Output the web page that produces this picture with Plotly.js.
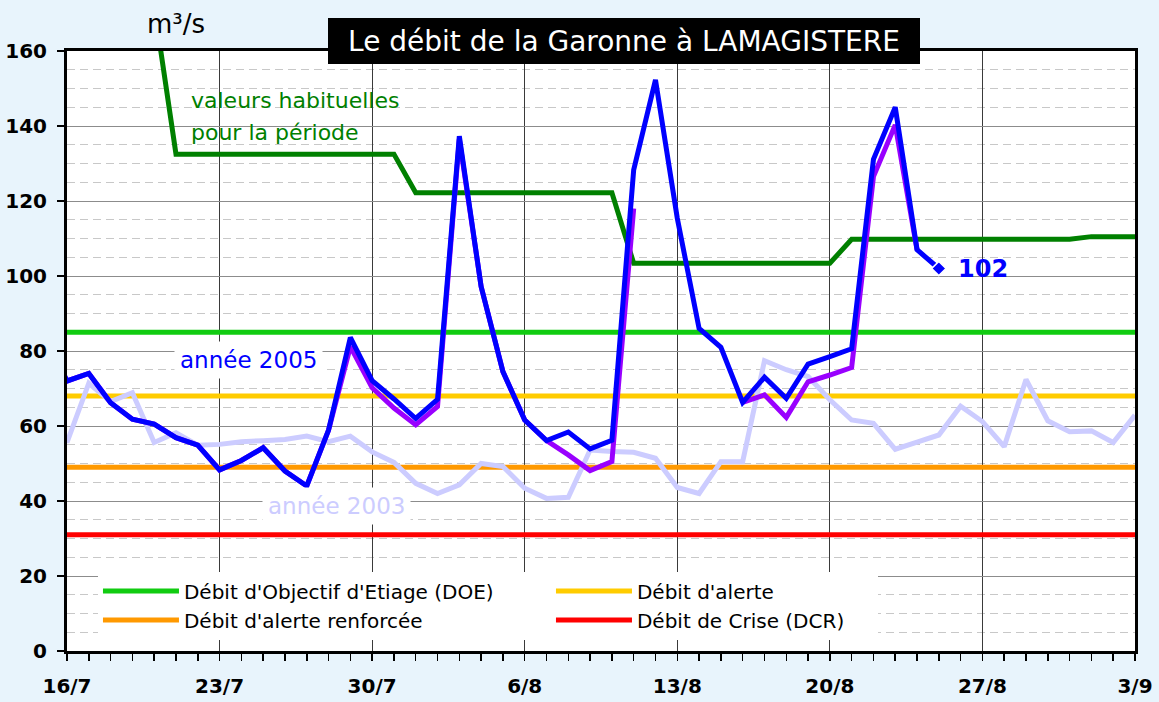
<!DOCTYPE html>
<html>
<head>
<meta charset="utf-8">
<script src="https://cdn.plot.ly/plotly-3.0.1.min.js"></script>
<style>
  html, body { margin: 0; padding: 0; background: #e8f4fc; }
  #chart { width: 1159px; height: 702px; }
</style>
</head>
<body>
<div id="chart"></div>
<script>
// ---- Data ----
const dates = [
  '2005-07-15','2005-07-16','2005-07-17','2005-07-18','2005-07-19','2005-07-20','2005-07-21',
  '2005-07-22','2005-07-23','2005-07-24','2005-07-25','2005-07-26','2005-07-27','2005-07-28',
  '2005-07-29','2005-07-30','2005-07-31','2005-08-01','2005-08-02','2005-08-03','2005-08-04',
  '2005-08-05','2005-08-06','2005-08-07','2005-08-08','2005-08-09','2005-08-10','2005-08-11',
  '2005-08-12','2005-08-13','2005-08-14','2005-08-15','2005-08-16','2005-08-17','2005-08-18',
  '2005-08-19','2005-08-20','2005-08-21','2005-08-22','2005-08-23','2005-08-24','2005-08-25',
  '2005-08-26','2005-08-27','2005-08-28','2005-08-29','2005-08-30','2005-08-31','2005-09-01',
  '2005-09-02','2005-09-03'
];

// année 2005 (m3/s)
const debit2005 = [84, 72, 74, 66.2, 61.8, 60.5, 56.9, 54.9, 48.3, 50.8, 54.2, 48, 44, 58.9,
  83.6, 72.1, 67.2, 62, 67.1, 137.3, 97.2, 74.5, 61.6, 56.1, 58.4, 53.9, 56.2, 128.3, 152.3,
  115.4, 86, 81, 66.3, 73, 67.4, 76.5, 78.5, 80.6, 131.1, 145, 107, 102];

// second 2005 series (violet)
const debit2005b = [84, 72, 74, 66.2, 61.8, 60.5, 56.9, 54.9, 48.3, 50.8, 54.2, 48, 44, 58.9,
  81.2, 70.2, 64.8, 60.3, 65.2, 136.5, 97.2, 74.5, 61.6, 56.1, 52.3, 48.1, 50.5, 118,
  null, null, null, null, 66.3, 68.3, 62.3, 71.8, 73.6, 75.6, 126.5, 140.3, 107, null];

// année 2003
const debit2003 = [72, 55.6, 71.4, 66.5, 68.9, 55.6, 58.2, 54.9, 55.1, 55.8, 56.1, 56.4, 57.3,
  55.8, 57.3, 53.1, 50.3, 44.7, 42, 44.3, 50, 49.2, 43.4, 40.7, 41, 53.6, 53.2, 53, 51.4, 43.6,
  42, 50.5, 50.5, 77.4, 75, 73.2, 67, 61.6, 60.7, 53.8, 55.7, 57.6, 65.3, 61.2, 54.5, 72.4,
  61.4, 58.5, 58.7, 55.6, 62.9];

// valeurs habituelles pour la période
const habituelles = [null, null, null, null, null, 172,
  132.5, 132.5, 132.5, 132.5, 132.5, 132.5, 132.5, 132.5, 132.5, 132.5, 132.5,
  122.2, 122.2, 122.2, 122.2, 122.2, 122.2, 122.2, 122.2, 122.2, 122.2,
  103.4, 103.4, 103.4, 103.4, 103.4, 103.4, 103.4, 103.4, 103.4, 103.4,
  109.8, 109.8, 109.8, 109.8, 109.8, 109.8, 109.8, 109.8, 109.8, 109.8, 109.8,
  110.5, 110.5, 110.5];

// seuils
const thresholdNames = ["Débit d'Objectif d'Etiage (DOE)", "Débit d'alerte", "Débit d'alerte renforcée", "Débit de Crise (DCR)"];
const thresholdValues = [85, 68, 49, 31];
const thresholdColors = ['#11cc11', '#ffcc00', '#ff9900', '#ff0000'];

const xTickStart = '2005-07-16';
const xTickEnd = '2005-09-03';

// ---- Traces ----
const FONT = 'DejaVu Sans, Verdana, sans-serif';
const firstDate = dates[0];
const lastDate = dates[dates.length - 1];

const traces = [];
thresholdValues.forEach((v, i) => {
  traces.push({
    x: [firstDate, lastDate], y: [v, v], type: 'scatter', mode: 'lines',
    name: thresholdNames[i], line: { color: thresholdColors[i], width: 5 },
    legendwidth: (i % 2 === 1) ? 236 : 362,
    hoverinfo: 'skip'
  });
});
traces.push({ x: dates, y: debit2003, type: 'scatter', mode: 'lines', showlegend: false,
  line: { color: '#ccccff', width: 5 }, connectgaps: false });
traces.push({ x: dates, y: habituelles, type: 'scatter', mode: 'lines', showlegend: false,
  line: { color: '#008000', width: 5 } });
traces.push({ x: dates.slice(0, debit2005b.length), y: debit2005b, type: 'scatter', mode: 'lines',
  showlegend: false, line: { color: '#9900ff', width: 5 }, connectgaps: false });
traces.push({ x: dates.slice(0, debit2005.length), y: debit2005, type: 'scatter', mode: 'lines',
  showlegend: false, line: { color: '#0000ff', width: 5 } });

const lastIdx = debit2005.length - 1;
traces.push({ x: [dates[lastIdx]], y: [debit2005[lastIdx]], type: 'scatter', mode: 'markers',
  showlegend: false, marker: { symbol: 'diamond', size: 11, color: '#0000ff', line: { color: '#ffffff', width: 1.5 } } });

const layout = {
  width: 1159, height: 702,
  margin: { l: 67, r: 24, t: 51, b: 51 },
  paper_bgcolor: '#e8f4fc',
  plot_bgcolor: '#ffffff',
  font: { family: FONT, color: '#000000' },
  showlegend: true,
  xaxis: {
    type: 'date',
    range: [xTickStart, xTickEnd],
    tick0: xTickStart, dtick: 7 * 86400000,
    tickformat: '%-d/%-m',
    ticks: 'outside', ticklen: 7, tickwidth: 1.5, tickcolor: '#000',
    ticklabelstandoff: 8,
    tickfont: { family: FONT, size: 20, weight: 'bold', color: '#000' },
    showgrid: true, gridcolor: '#3a3a3a', gridwidth: 1,
    showline: true, linecolor: '#000', linewidth: 3, mirror: true,
    zeroline: false,
    minor: { dtick: 86400000, tick0: xTickStart, ticks: 'outside', ticklen: 7, tickwidth: 1.5, tickcolor: '#000', showgrid: false },
    fixedrange: true
  },
  yaxis: {
    range: [0, 160], dtick: 20, tick0: 0,
    ticks: 'outside', ticklen: 7, tickwidth: 1.5, tickcolor: '#000',
    ticklabelstandoff: 6,
    tickfont: { family: FONT, size: 20, weight: 'bold', color: '#000' },
    showgrid: true, gridcolor: '#8c8c8c', gridwidth: 1,
    showline: true, linecolor: '#000', linewidth: 3, mirror: true,
    zeroline: false,
    minor: { dtick: 5, showgrid: true, griddash: '8px,5px', gridcolor: '#c8c8c8', gridwidth: 1, ticks: '' },
    fixedrange: true
  },
  legend: {
    orientation: 'h', x: 0.0290, y: 0.1325, xanchor: 'left', yanchor: 'top',
    bgcolor: '#ffffff', borderwidth: 0,
    font: { family: FONT, size: 20, color: '#000' },
    itemwidth: 76, entrywidth: 362, entrywidthmode: 'pixels',
    traceorder: 'normal'
  },
  annotations: [
    { text: 'Le débit de la Garonne à LAMAGISTERE', xref: 'paper', yref: 'paper',
      x: 0.5215, y: 1.0162, xanchor: 'center', yanchor: 'middle', showarrow: false,
      width: 592, height: 46, bgcolor: '#000000', borderpad: 0, borderwidth: 0,
      font: { family: FONT, size: 28, color: '#ffffff' } },
    { text: 'm³/s', xref: 'paper', yref: 'paper', x: 0.102, y: 1.045,
      xanchor: 'center', yanchor: 'middle', showarrow: false,
      font: { family: FONT, size: 26, color: '#000000' } },
    { text: 'valeurs habituelles', xref: 'paper', yref: 'paper', x: 0.1145, y: 0.9167,
      xanchor: 'left', yanchor: 'middle', showarrow: false,
      font: { family: FONT, size: 22, color: '#008000' } },
    { text: 'pour la période', xref: 'paper', yref: 'paper', x: 0.1145, y: 0.865,
      xanchor: 'left', yanchor: 'middle', showarrow: false,
      font: { family: FONT, size: 22, color: '#008000' } },
    { text: 'année 2005', xref: 'paper', yref: 'paper', x: 0.1695, y: 0.485,
      xanchor: 'center', yanchor: 'middle', showarrow: false, bgcolor: '#ffffff', borderpad: 5,
      font: { family: FONT, size: 23, color: '#0000ff' } },
    { text: 'année 2003', xref: 'paper', yref: 'paper', x: 0.2528, y: 0.2417,
      xanchor: 'center', yanchor: 'middle', showarrow: false, bgcolor: '#ffffff', borderpad: 5,
      font: { family: FONT, size: 23, color: '#ccccff' } },
    { text: String(debit2005[lastIdx]), xref: 'x', yref: 'y', x: dates[lastIdx], y: debit2005[lastIdx],
      xanchor: 'left', yanchor: 'middle', xshift: 17, showarrow: false,
      font: { family: FONT, size: 24, weight: 'bold', color: '#0000ff' } }
  ]
};

Plotly.newPlot('chart', traces, layout, { displayModeBar: false, staticPlot: true });
</script>
</body>
</html>
